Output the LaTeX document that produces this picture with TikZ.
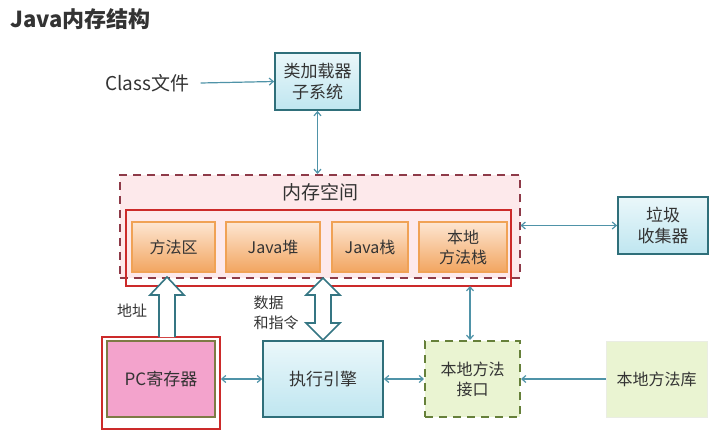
\documentclass[tikz,border=0pt]{standalone}
\usepackage{fontspec}
\setmainfont{Noto Sans CJK SC}
\usetikzlibrary{arrows.meta}
\definecolor{arr}{HTML}{4F93A8}
\definecolor{tealb}{HTML}{2F6F7A}
\definecolor{blueA}{HTML}{EAF7FA}
\definecolor{blueB}{HTML}{BFE6F0}
\definecolor{orB}{HTML}{F2A560}
\definecolor{orA}{HTML}{FDE6D2}
\definecolor{orD}{HTML}{F0A255}
\definecolor{memD}{HTML}{8E3A48}
\definecolor{memF}{HTML}{FDE9EB}
\definecolor{redb}{HTML}{CC2A2A}
\definecolor{pcF}{HTML}{F3A3CC}
\definecolor{pcD}{HTML}{7E7A45}
\definecolor{grnF}{HTML}{EAF4D2}
\definecolor{grnD}{HTML}{66803A}
\definecolor{txt}{HTML}{333333}
\tikzset{
  bluebox/.style={draw=tealb, line width=1.8pt, top color=blueA, bottom color=blueB, minimum width=#1, minimum height=57pt, align=center, text=txt, font=\fontsize{17}{21}\selectfont},
  orbox/.style={draw=orD, line width=1.5pt, top color=orA, bottom color=orB, minimum width=#1, minimum height=50pt, align=center, text=txt, font=\fontsize{16}{20}\selectfont},
  conn/.style={draw=arr, line width=1.2pt, {Straight Barb[length=4pt,width=7pt]}-{Straight Barb[length=4pt,width=7pt]}},
  conn1/.style={draw=arr, line width=1.2pt, -{Straight Barb[length=4pt,width=7pt]}},
  hollow/.style={draw=tealb!80!arr, line width=1.6pt, fill=white, line join=miter},
  lbl/.style={text=txt, font=\fontsize{15}{20}\selectfont, align=left}
}
\begin{document}
\begin{tikzpicture}[x=1pt,y=-1pt]
\useasboundingbox (0,0) rectangle (719,433);
% title
\node[anchor=west, text=txt, font=\fontsize{22}{26}\selectfont\bfseries] (title) at (7,19) {Java内存结构};
% class file and loader
\node[text=txt, font=\fontsize{19}{22}\selectfont] (cls) at (147,83) {Class文件};
\node[bluebox=85pt] (loader) at (317.5,81.5) {类加载器\\子系统};
% memory space
\node[draw=memD, line width=2pt, dash pattern=on 8pt off 6pt, fill=memF, minimum width=400pt, minimum height=103pt] (mem) at (319.5,226.5) {};
\node[text=txt, font=\fontsize{19}{22}\selectfont] (memt) at (320,192) {内存空间};
\node[draw=redb, line width=1.8pt, minimum width=385pt, minimum height=76pt] (redbox) at (318.5,248) {};
\node[orbox=83pt] (m1) at (173.5,247) {方法区};
\node[orbox=94pt] (m2) at (273,247) {Java堆};
\node[orbox=76pt] (m3) at (370,247) {Java栈};
\node[orbox=88pt] (m4) at (463,247) {本地\\方法栈};
% gc
\node[bluebox=90pt] (gc) at (663,225.5) {垃圾\\收集器};
% bottom row
\node[draw=redb, line width=1.8pt, fill=white, minimum width=118pt, minimum height=92pt] (pcout) at (161,383) {};
\node[draw=pcD, line width=1.8pt, fill=pcF, minimum width=108pt, minimum height=76pt, text=txt, font=\fontsize{17}{21}\selectfont] (pc) at (161,379) {PC寄存器};
\node[bluebox=120pt, minimum height=76pt] (exec) at (323,379) {执行引擎};
\node[draw=grnD, line width=2pt, dash pattern=on 8pt off 6pt, fill=grnF, minimum width=95pt, minimum height=76pt, align=center, text=txt, font=\fontsize{16}{20}\selectfont] (nif) at (472.5,379) {本地方法\\接口};
\node[draw=grnF!70!gray!40, line width=0.6pt, fill=grnF, minimum width=101pt, minimum height=76pt, text=txt, font=\fontsize{16}{20}\selectfont] (nlib) at (656.5,379) {本地方法库};
% connectors
\coordinate (clsE) at ([xshift=8pt]cls.east);
\draw[conn1] (clsE) -- (loader.west);
\draw[conn] (loader.south) -- (loader.south |- mem.north);
\draw[conn] (mem.east |- gc.west) -- (gc.west);
\draw[conn] (pc.east -| pcout.east) -- (exec.west);
\draw[conn] (exec.east) -- (nif.west);
\draw[conn1] (nlib.west) -- (nif.east);
\coordinate (m4b) at (470,286);
\draw[conn] (m4b) -- (m4b |- nif.north);
% hollow arrows
\draw[hollow] (159,337) -- (159,295) -- (150,295) -- (167,277) -- (184,295) -- (175,295) -- (175,337);
\draw[hollow] (315,323) -- (315,295) -- (306,295) -- (323,278) -- (340,295) -- (331,295) -- (331,323) -- (340,323) -- (323,340) -- (306,323) -- cycle;
\node[lbl] (addr) at (132,311) {地址};
\node[lbl] (data) at (276,313) {数据\\和指令};
\end{tikzpicture}
\end{document}
